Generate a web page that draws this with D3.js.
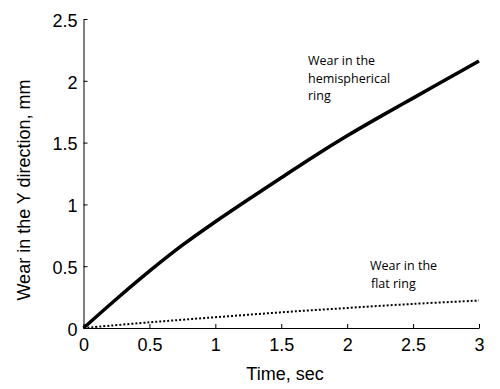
<!DOCTYPE html>
<html lang="en">
<head>
    <meta charset="UTF-8">
    <title>wear_vs_time</title>
    <script src="https://d3js.org/d3.v7.min.js"></script>
    <style>
        body {
            margin: 0;
            background: #fff;
        }
        .tick text {
            font-family: "Liberation Sans", Arial, sans-serif;
            font-size: 18px;
            fill: #000;
        }
        .axis-label {
            font-family: "Liberation Sans", Arial, sans-serif;
            font-size: 18px;
            fill: #000;
        }
        .note {
            font-family: "Open Sans", sans-serif;
            font-size: 12.5px;
            fill: #000;
        }
    </style>
</head>
<body>
    <div id="chart"></div>
    <script>
        // time (sec)
        const timeHemi = [0, 0.25, 0.5, 0.75, 1, 1.25, 1.5, 1.75, 2, 2.25, 2.5, 2.75, 3];
        // wear, hemispherical ring (mm)
        const wearHemi = [0, 0.235, 0.46, 0.67, 0.86, 1.04, 1.215, 1.39, 1.555, 1.71, 1.86, 2.01, 2.16];

        const timeFlat = [0, 0.5, 1, 1.5, 2, 2.5, 3];
        // wear, flat ring (mm)
        const wearFlat = [0, 0.046, 0.087, 0.127, 0.162, 0.195, 0.222];

        const xTicks = [0, 0.5, 1, 1.5, 2, 2.5, 3];
        const yTicks = [0, 0.5, 1, 1.5, 2, 2.5];

        const width = 500;
        const height = 389;
        const margin = {top: 19, right: 21, bottom: 61, left: 83.5};

        const svg = d3.select("#chart")
            .append("svg")
            .attr("width", width)
            .attr("height", height);

        const x = d3.scaleLinear()
            .domain([0, 3])
            .range([margin.left, width - margin.right]);

        const y = d3.scaleLinear()
            .domain([0, 2.5])
            .range([height - margin.bottom, margin.top]);

        // axes, ticks pointing inward like matlab
        const xAxis = svg.append("g")
            .attr("transform", `translate(0,${y(0)})`)
            .call(d3.axisBottom(x).tickValues(xTicks).tickFormat(d3.format("")).tickSizeInner(-4).tickSizeOuter(0).tickPadding(6));

        const yAxis = svg.append("g")
            .attr("transform", `translate(${x(0)},0)`)
            .call(d3.axisLeft(y).tickValues(yTicks).tickFormat(d3.format("")).tickSizeInner(-4).tickSizeOuter(0).tickPadding(6));

        xAxis.selectAll(".tick text").attr("dy", "0.95em");
        yAxis.selectAll(".tick text").attr("dy", "0.4em");
        svg.selectAll(".domain").attr("stroke", "#000").attr("stroke-width", 1);
        svg.selectAll(".tick line").attr("stroke", "#000");

        const line = d3.line()
            .x(d => x(d[0]))
            .y(d => y(d[1]))
            .curve(d3.curveCatmullRom);

        svg.append("path")
            .datum(d3.zip(timeHemi, wearHemi))
            .attr("fill", "none")
            .attr("stroke", "#000")
            .attr("stroke-width", 3.5)
            .attr("d", line);

        svg.append("path")
            .datum(d3.zip(timeFlat, wearFlat))
            .attr("fill", "none")
            .attr("stroke", "#000")
            .attr("stroke-width", 2)
            .attr("stroke-dasharray", "2,2")
            .attr("d", line);

        // axis titles
        svg.append("text")
            .attr("class", "axis-label")
            .attr("x", 285)
            .attr("y", 380)
            .attr("text-anchor", "middle")
            .text("Time, sec");

        svg.append("text")
            .attr("class", "axis-label")
            .attr("transform", "translate(30,190) rotate(-90)")
            .attr("text-anchor", "middle")
            .text("Wear in the Y direction, mm");

        // curve notes
        const notes = [
            {lines: ["Wear in the", "hemispherical", "ring"], x: 308, y: 65},
            {lines: ["Wear in the", "flat ring"], x: 370, y: 270}
        ];

        notes.forEach(n => {
            svg.append("text")
                .attr("class", "note")
                .attr("x", n.x)
                .attr("y", n.y)
                .selectAll("tspan")
                .data(n.lines)
                .enter()
                .append("tspan")
                .attr("x", (d, i) => i === 0 || n.lines.length === 3 ? n.x : n.x + 1)
                .attr("dy", (d, i) => i === 0 ? 0 : 17.5)
                .text(d => d);
        });
    </script>
</body>
</html>
